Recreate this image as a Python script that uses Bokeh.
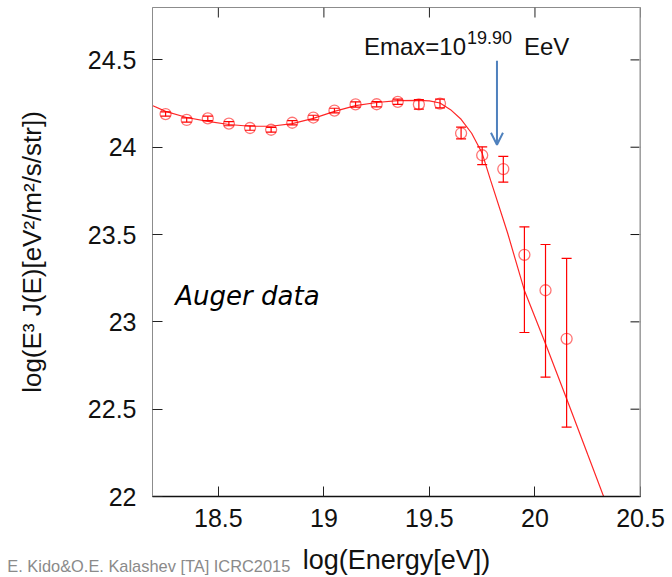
import numpy as np
from bokeh.plotting import figure
from bokeh.core.properties import value
from bokeh.models import (Range1d, FixedTicker, CustomJSTickFormatter, Span,
                          Whisker, TeeHead, ColumnDataSource, Label, Arrow, OpenHead)
from bokeh.embed import file_html
from bokeh.resources import INLINE

# Measured spectrum: log10(E/eV) and log10(E^3 J(E))
energy = [18.25, 18.35, 18.45, 18.55, 18.65, 18.75, 18.85, 18.95, 19.05, 19.15,
          19.25, 19.35, 19.45, 19.55, 19.65, 19.75, 19.85, 19.95, 20.05, 20.15]
flux = [24.190, 24.156, 24.165, 24.135, 24.110, 24.100, 24.140, 24.170, 24.210, 24.245,
        24.246, 24.260, 24.245, 24.250, 24.080, 23.954, 23.875, 23.384, 23.181, 22.903]
err_plus = [0.012, 0.012, 0.013, 0.012, 0.013, 0.014, 0.012, 0.013, 0.013, 0.015,
            0.015, 0.015, 0.027, 0.025, 0.035, 0.048, 0.073, 0.160, 0.262, 0.460]
err_minus = [0.012, 0.012, 0.013, 0.012, 0.013, 0.014, 0.012, 0.013, 0.013, 0.015,
             0.015, 0.015, 0.027, 0.025, 0.032, 0.054, 0.075, 0.445, 0.498, 0.506]

# Propagation model fit
model_energy = [18.19, 18.25, 18.35, 18.45, 18.55, 18.65, 18.75, 18.85, 18.95, 19.05,
                19.15, 19.25, 19.35, 19.45, 19.50, 19.55, 19.60, 19.65, 19.70, 19.75,
                19.79, 19.87, 19.95, 20.05, 20.15, 20.25, 20.33]
model_flux = [24.237, 24.205, 24.170, 24.148, 24.130, 24.120, 24.120, 24.135, 24.165, 24.205,
              24.238, 24.256, 24.267, 24.268, 24.265, 24.253, 24.215, 24.160, 24.080, 23.965,
              23.810, 23.510, 23.180, 22.875, 22.560, 22.240, 21.985]

x_ticks = [18.5, 19.0, 19.5, 20.0, 20.5]
y_ticks = [22.0, 22.5, 23.0, 23.5, 24.0, 24.5]

emax_log = 19.82
emax_text = "19.90"
credit = "E. Kido&O.E. Kalashev [TA] ICRC2015"

X_LO, X_HI = 18.188, 20.5
Y_LO, Y_HI = 22.0, 24.8

FONT = "Liberation Sans"
RED = "#ff0000"
BLUE = "#4f81bd"
INK = "#111111"

p = figure(width=672, height=577,
           x_range=Range1d(X_LO, X_HI), y_range=Range1d(Y_LO, Y_HI),
           output_backend="svg", toolbar_location=None,
           min_border_left=152, min_border_right=32,
           min_border_top=7, min_border_bottom=81,
           background_fill_color="white", border_fill_color="white")
p.xgrid.visible = False
p.ygrid.visible = False
p.outline_line_color = "#8c8c8c"

fmt = CustomJSTickFormatter(code="return String(tick);")

xa = p.xaxis[0]
xa.ticker = FixedTicker(ticks=x_ticks)
xa.formatter = fmt
xa.major_tick_in = 10
xa.major_tick_out = 0
xa.minor_tick_line_color = None
xa.major_tick_line_color = "#222222"
xa.axis_line_color = INK
xa.axis_line_width = 1.5
xa.major_label_text_font = FONT
xa.major_label_text_font_size = "25px"
xa.major_label_text_color = INK
xa.major_label_standoff = 12
xa.axis_label = "log(Energy[eV])"
xa.axis_label_text_font = FONT
xa.axis_label_text_font_size = "27px"
xa.axis_label_text_font_style = "normal"
xa.axis_label_text_color = INK
xa.axis_label_standoff = 15

ya = p.yaxis[0]
ya.ticker = FixedTicker(ticks=y_ticks)
ya.formatter = fmt
ya.major_tick_in = 10
ya.major_tick_out = 0
ya.minor_tick_line_color = None
ya.major_tick_line_color = "#222222"
ya.axis_line_color = "#8c8c8c"
ya.major_label_text_font = FONT
ya.major_label_text_font_size = "25px"
ya.major_label_text_color = INK
ya.major_label_standoff = 16
ya.axis_label = "log(E³ J(E)[eV²/m²/s/str])"
ya.axis_label_text_font = FONT
ya.axis_label_text_font_size = "26px"
ya.axis_label_text_font_style = "normal"
ya.axis_label_text_color = INK
ya.axis_label_standoff = 38

# Inward ticks mirrored on the top and right edges, and the heavier right border
p.add_layout(Span(location=X_HI, dimension="height", line_color="#b4b4b4", line_width=2.5))
p.ray(x=x_ticks, y=[Y_HI] * len(x_ticks), length=10, length_units="screen",
      angle=-np.pi / 2, line_color="#222222", line_width=1)
p.ray(x=[X_HI] * len(y_ticks), y=y_ticks, length=10, length_units="screen",
      angle=np.pi, line_color=INK, line_width=1)

# Model curve
p.line(model_energy, model_flux, line_color=RED, line_width=1.2, line_alpha=0.85)

# Data with error bars
e = np.array(energy)
f = np.array(flux)
src = ColumnDataSource(dict(x=e, y=f,
                            upper=f + np.array(err_plus),
                            lower=f - np.array(err_minus)))
p.add_layout(Whisker(base="x", upper="upper", lower="lower", source=src,
                     line_color=RED, line_width=1.2,
                     upper_head=TeeHead(size=10, line_color=RED, line_width=1.2),
                     lower_head=TeeHead(size=10, line_color=RED, line_width=1.2)))
p.scatter("x", "y", source=src, marker="circle", size=11,
          fill_color=None, line_color=RED, line_alpha=0.55, line_width=1.3)

# Emax annotation
p.add_layout(Arrow(x_start=emax_log, y_start=24.495, x_end=emax_log, y_end=24.014,
                   line_color=BLUE, line_width=2,
                   end=OpenHead(size=12, line_color=BLUE, line_width=2)))
EY = 24.575
p.add_layout(Label(x=19.19, y=EY, text="Emax=10", text_font=FONT,
                   text_font_size="24px", text_color=INK,
                   text_baseline="alphabetic"))
p.add_layout(Label(x=19.19, y=EY, x_offset=103, y_offset=9, text=emax_text,
                   text_font=FONT, text_font_size="18px", text_color=INK,
                   text_baseline="alphabetic"))
p.add_layout(Label(x=19.19, y=EY, x_offset=160, text="EeV", text_font=FONT,
                   text_font_size="24px", text_color=INK,
                   text_baseline="alphabetic"))

# Handwritten-style note
p.add_layout(Label(x=18.296, y=23.15, text="Auger data", text_font="DejaVu Sans",
                   text_font_size="26px", text_font_style="italic",
                   text_color="#000000", text_baseline="alphabetic"))

# Credit line under the frame, drawn on the overlay level so it is not clipped
p.text(x=[18.841], y=[21.60], text=[credit], text_font=value(FONT),
       text_font_size="16.4px", text_color="#8a8a8a", text_align="right",
       text_baseline="alphabetic", level="overlay")

open("out.html", "w").write(file_html(p, INLINE))
